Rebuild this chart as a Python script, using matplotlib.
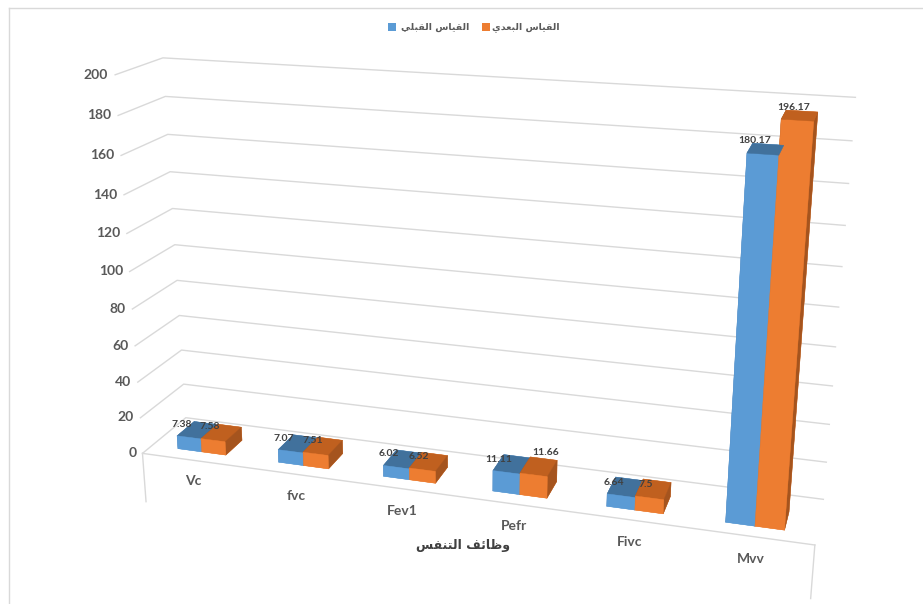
import numpy as np
import matplotlib
matplotlib.use('Agg')
import matplotlib.pyplot as plt
from matplotlib.patches import Rectangle
from matplotlib.lines import Line2D
from matplotlib.transforms import offset_copy
from mpl_toolkits.mplot3d import proj3d

categories = ['Vc', 'fvc', 'Fev1', 'Pefr', 'Fivc', 'Mvv']
pre_vals = [7.38, 7.07, 6.02, 11.11, 6.64, 180.17]
post_vals = [7.58, 7.51, 6.52, 11.66, 7.5, 196.17]
z_ticks = list(range(0, 201, 20))
series_names = ['القياس القبلي', 'القياس البعدي']
x_title = 'وظائف التنفس'

# arabic forms: isolated, final, initial, medial (matplotlib does no shaping)
FORMS = {
    'ا': ('\uFE8D', '\uFE8E', None, None),
    'ل': ('\uFEDD', '\uFEDE', '\uFEDF', '\uFEE0'),
    'ق': ('\uFED5', '\uFED6', '\uFED7', '\uFED8'),
    'ي': ('\uFEF1', '\uFEF2', '\uFEF3', '\uFEF4'),
    'س': ('\uFEB1', '\uFEB2', '\uFEB3', '\uFEB4'),
    'ب': ('\uFE8F', '\uFE90', '\uFE91', '\uFE92'),
    'ع': ('\uFEC9', '\uFECA', '\uFECB', '\uFECC'),
    'د': ('\uFEA9', '\uFEAA', None, None),
    'و': ('\uFEED', '\uFEEE', None, None),
    'ظ': ('\uFEC5', '\uFEC6', '\uFEC7', '\uFEC8'),
    'ئ': ('\uFE89', '\uFE8A', '\uFE8B', '\uFE8C'),
    'ف': ('\uFED1', '\uFED2', '\uFED3', '\uFED4'),
    'ت': ('\uFE95', '\uFE96', '\uFE97', '\uFE98'),
    'ن': ('\uFEE5', '\uFEE6', '\uFEE7', '\uFEE8'),
}


def shape_ar(text):
    words = []
    for word in text.split(' '):
        res = []
        for k, ch in enumerate(word):
            iso, fin, ini, med = FORMS[ch]
            joins_prev = k > 0 and FORMS[word[k - 1]][2] is not None
            joins_next = k < len(word) - 1 and ini is not None
            if joins_prev and joins_next:
                res.append(med)
            elif joins_prev:
                res.append(fin)
            elif joins_next:
                res.append(ini)
            else:
                res.append(iso)
        words.append(''.join(reversed(res)))
    return ' '.join(reversed(words))


blue = ['#5B9BD5', '#41719C', '#4A80B8']     # front, top, side
orange = ['#ED7D31', '#C0601F', '#A5541E']
grey_txt = '#595959'
grid_c = '#d9d9d9'
num_font = ['Lato', 'DejaVu Sans']
ar_font = ['DejaVu Sans']

fig = plt.figure(figsize=(9.23, 6.04), dpi=100)
ax = fig.add_axes([-0.002, -0.263, 1.0, 1.528], projection='3d')
ax.set_proj_type('persp', focal_length=0.31)
ax.view_init(elev=18.5, azim=-73)
ax.set_box_aspect((8.42, 1.2, 4.86), zoom=0.87)

# bars, one collection so faces sort together
w = 0.24
y0, dep = 0.22, 0.40
xs, hs, face_cols = [], [], []
for i in range(len(categories)):
    for off, val, col in [(-w, pre_vals[i], blue), (0, post_vals[i], orange)]:
        xs.append(i + off)
        hs.append(val)
        # order: bottom, top, front, back, left, right
        face_cols += [col[0], col[1], col[0], col[0], col[2], col[2]]
xs = np.array(xs)
hs = np.array(hs)
ax.bar3d(xs, np.full(len(xs), y0), np.zeros(len(xs)), w, dep, hs,
         color=face_cols, shade=False, edgecolor=face_cols, linewidth=0.3)

xlo, xhi = -0.5, len(categories) - 0.5
ax.set_xlim(xlo, xhi)
ax.set_ylim(0, 1)
ax.set_zlim(0, 200)

# walls: only the value gridlines
for a in (ax.xaxis, ax.yaxis, ax.zaxis):
    a.set_pane_color((1, 1, 1, 0))
    a.pane.set_edgecolor('none')
    a.line.set_linewidth(0)
    a._axinfo['tick']['inward_factor'] = 0
    a._axinfo['tick']['outward_factor'] = 0
ax.set_xticks([])
ax.set_yticks([])
ax.set_zticks(z_ticks)
ax.set_zticklabels([])
ax.grid(True)
ax.zaxis._axinfo['grid']['color'] = grid_c
ax.zaxis._axinfo['grid']['linewidth'] = 1.0

# floor front edge and the two drop lines under it
ax.plot([xlo, xhi], [0, 0], [0, 0], color=grid_c, lw=1)
for xe in (xlo, xhi):
    ax.plot([xe, xe], [0, 0], [0, -28], color=grid_c, lw=1)

# the one moved data label (11.66) with its leader
nudge = {7: (0.13, 6)}
for k, (dx, dz) in nudge.items():
    xc = xs[k] + w / 2
    ax.plot([xc, xc + dx * 0.8], [y0 + dep / 2] * 2, [hs[k], hs[k] + dz * 0.8],
            color=grid_c, lw=0.8)

# texts: project 3d anchor points, then place them as plain 2d text
M = ax.get_proj()


def text3(x, y, z, s, up=0, side=0, **kw):
    px, py, _ = proj3d.proj_transform(x, y, z, M)
    tr = offset_copy(ax.transData, fig=fig, x=side, y=up, units='points')
    return ax.text2D(px, py, s, transform=tr, zorder=10, **kw)


for z in z_ticks:
    text3(xlo - 0.06, 0, z, str(z), ha='right', va='center', color=grey_txt,
          fontsize=10, fontweight='bold', family=num_font)

for i, name in enumerate(categories):
    text3(i, 0, -12, name, ha='center', va='center', color=grey_txt,
          fontsize=10, fontweight='bold', family=num_font)

for k, (x, h) in enumerate(zip(xs, hs)):
    dx, dz = nudge.get(k, (0, 0))
    text3(x + w / 2 - 0.03 + dx, y0, h + dz, f'{h:g}', up=6,
          side=-3 if k % 2 == 0 else 0, ha='center', va='bottom',
          color='#404040', fontsize=7.5, fontweight='bold', family=num_font)

fig.text(463 / 923, 1 - 546 / 604, shape_ar(x_title), ha='center', va='center',
         color='#404040', fontsize=9, fontweight='bold', family=ar_font)

# legend, laid out by hand (square, then its label)
W, H = 923, 604
for sx, tx, col, name in [(388, 401, blue[0], series_names[0]),
                          (482, 492, orange[0], series_names[1])]:
    fig.add_artist(Rectangle((sx / W, 1 - 31 / H), 8 / W, 8 / H,
                             transform=fig.transFigure, color=col, lw=0))
    fig.text(tx / W, 1 - 27 / H, shape_ar(name), ha='left',
             va='center', color=grey_txt, fontsize=6.8, fontweight='bold',
             family=ar_font)

# chart area border
fig.add_artist(Line2D([9 / W, 9 / W], [0, 1 - 8 / H],
                      transform=fig.transFigure, color=grid_c, lw=1))
fig.add_artist(Line2D([9 / W, 1], [1 - 8 / H, 1 - 8 / H],
                      transform=fig.transFigure, color=grid_c, lw=1))

fig.savefig('out.png', dpi=100, facecolor='white')
